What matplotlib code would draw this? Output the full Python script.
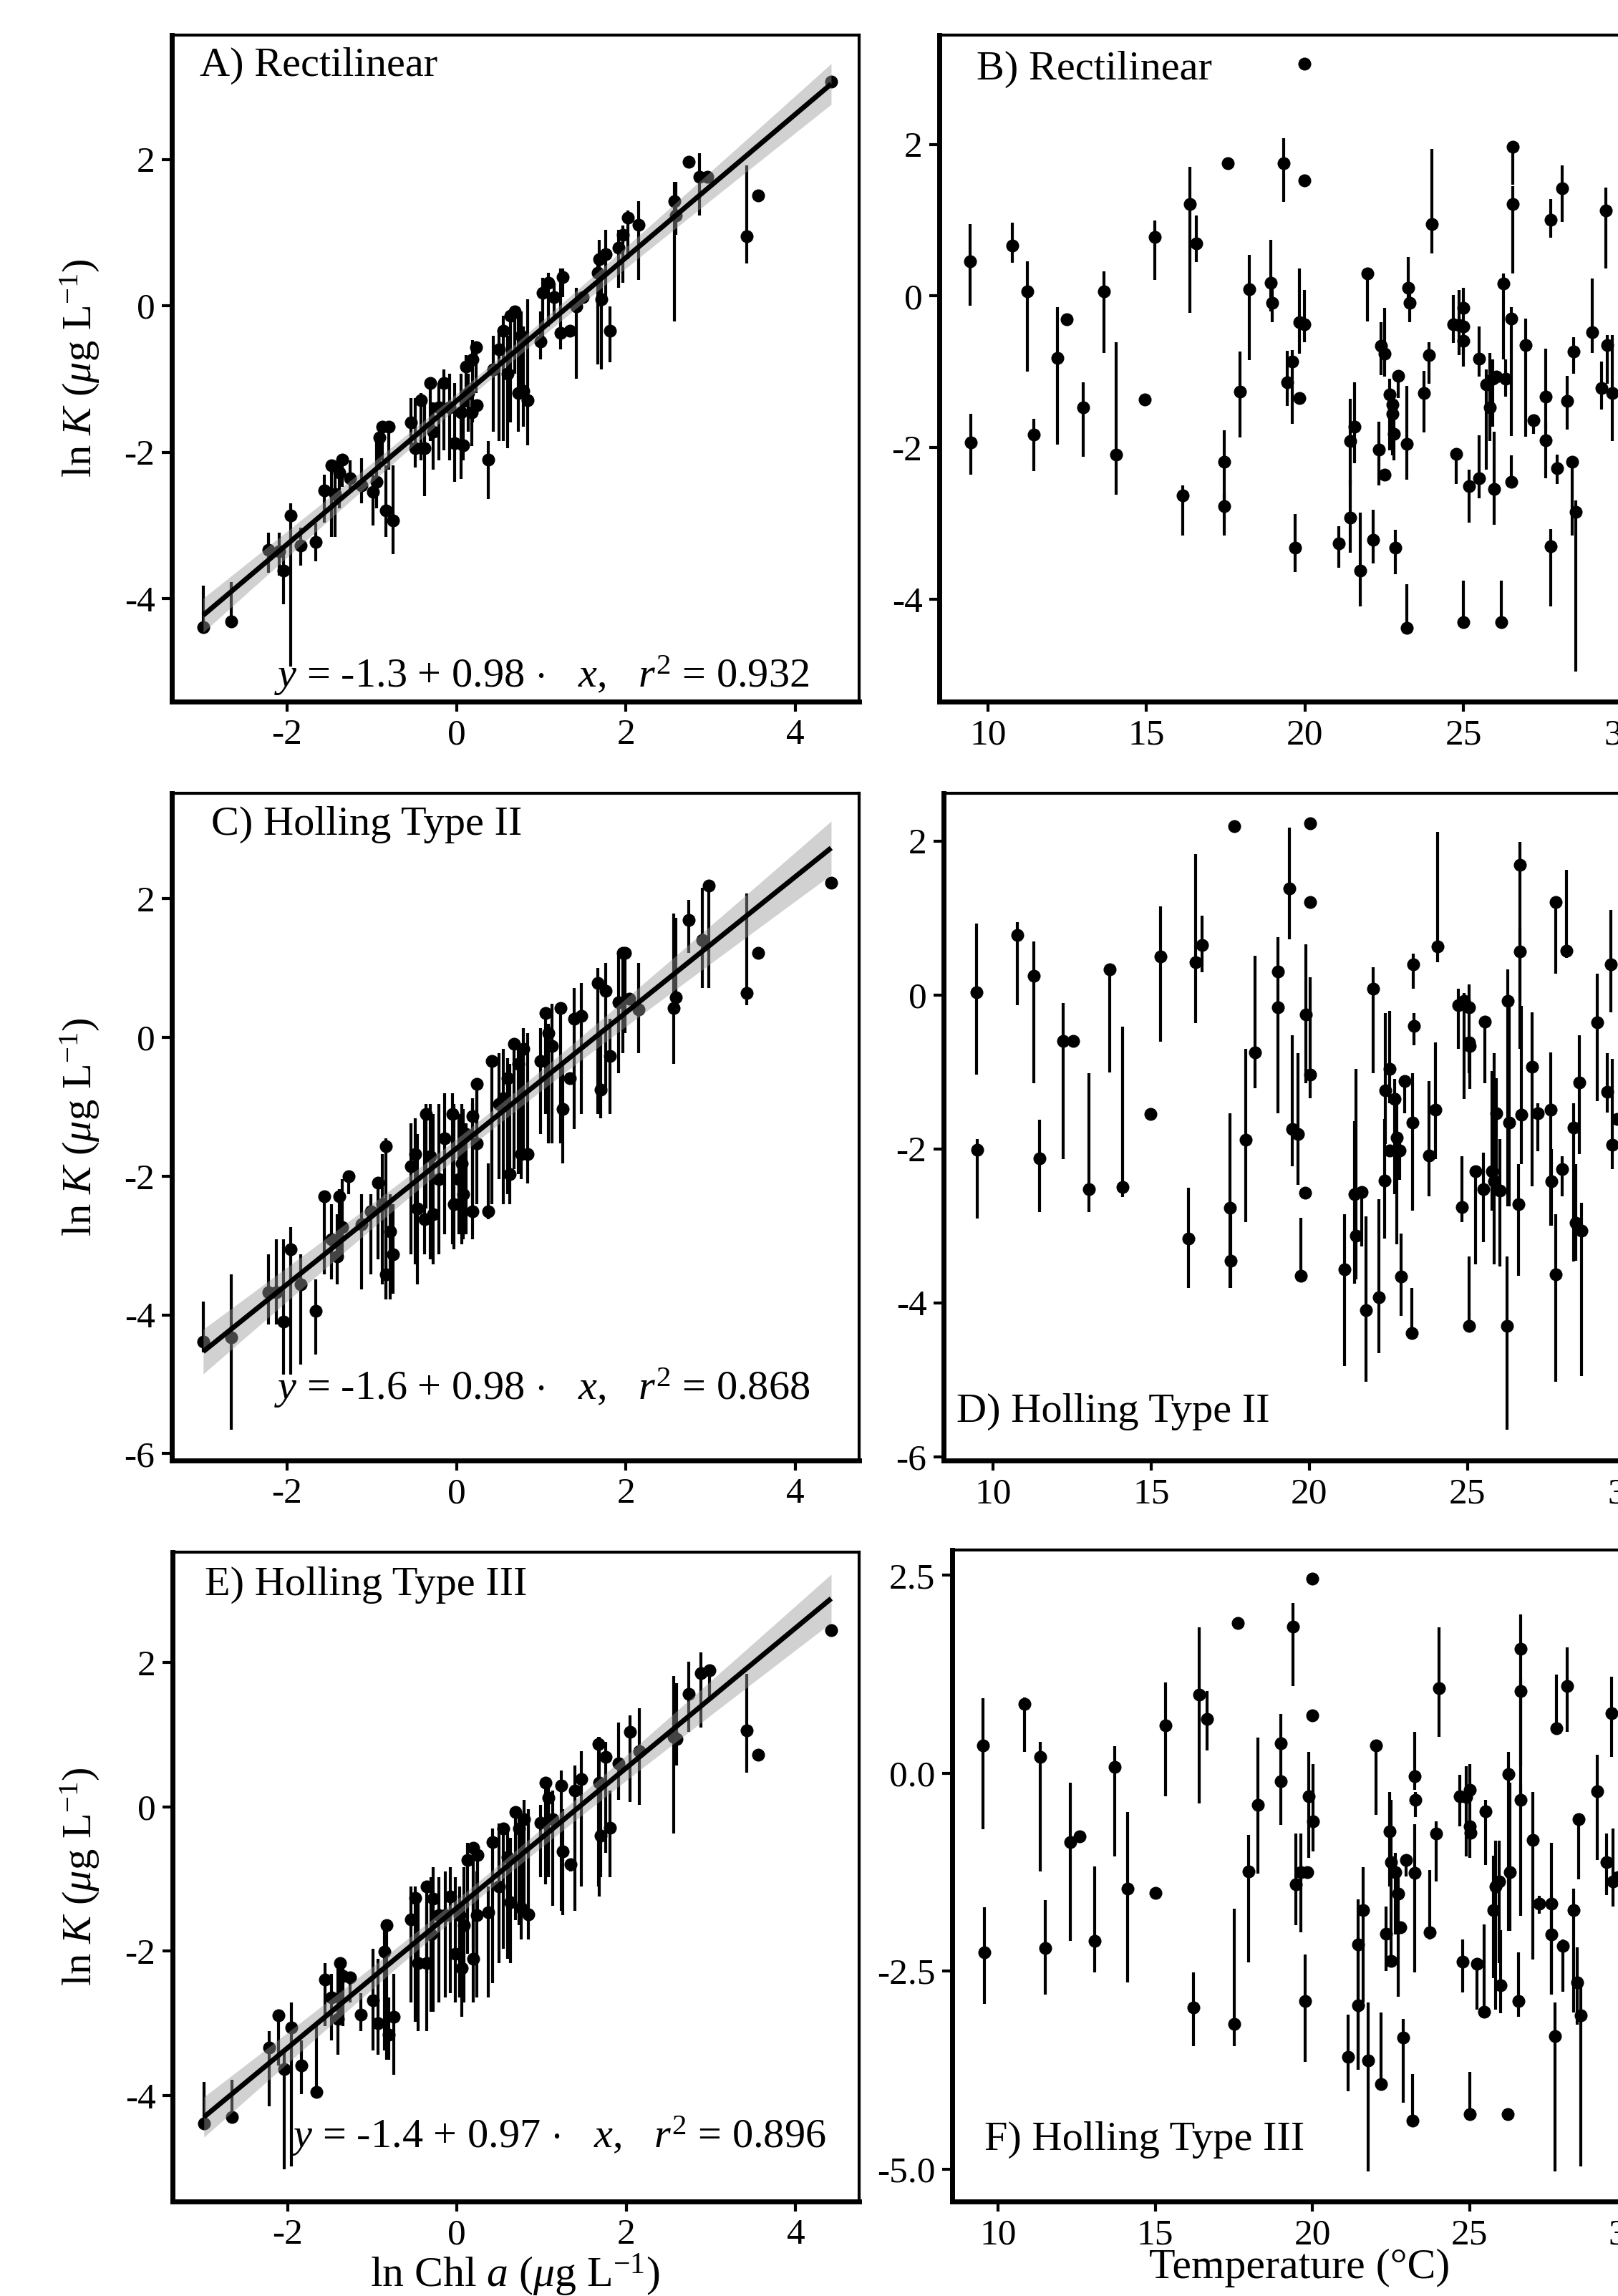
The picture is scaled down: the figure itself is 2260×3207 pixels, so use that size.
import numpy as np
import matplotlib
matplotlib.use('Agg')
import matplotlib.pyplot as plt
from matplotlib.ticker import FormatStrFormatter

plt.rcParams['font.family'] = 'Liberation Serif'
plt.rcParams['mathtext.fontset'] = 'custom'
plt.rcParams['mathtext.rm'] = 'Liberation Serif'
plt.rcParams['mathtext.it'] = 'Liberation Serif:italic'
plt.rcParams['axes.unicode_minus'] = False

# ── Data: left column, ln Chl a vs ln K ─────────────────────────
chl_A = [-2.99, -2.66, -2.22, -2.09, -2.04, -1.96, -1.84, -1.66, -1.56, -1.48, -1.43, -1.38, -1.35, -1.26, -1.12,
         -0.99, -0.94, -0.91, -0.88, -0.83, -0.80, -0.75, -0.54, -0.49, -0.42, -0.38, -0.31, -0.28, -0.21, -0.15,
         -0.08, -0.02, 0.05, 0.08, 0.11, 0.14, 0.19, 0.18, 0.23, 0.24, 0.37, 0.43, 0.50, 0.55, 0.60, 0.64, 0.69,
         0.73, 0.76, 0.79, 0.84, 0.99, 1.02, 1.08, 1.15, 1.23, 1.25, 1.34, 1.41, 1.49, 1.67, 1.68, 1.71, 1.76,
         1.81, 1.91, 1.96, 2.02, 2.15, 2.57, 2.59, 2.74, 2.87, 2.96, 3.42, 3.56, 4.42]
lnk_A = [-4.39, -4.31, -3.34, -3.36, -3.62, -2.87, -3.28, -3.23, -2.52, -2.18, -2.57, -2.28, -2.10, -2.36, -2.45,
         -2.54, -2.41, -1.80, -1.65, -2.80, -1.65, -2.93, -1.59, -1.95, -1.29, -1.95, -1.06, -1.72, -1.39, -1.06,
         -1.39, -1.88, -1.46, -1.91, -0.83, -1.19, -0.73, -1.46, -0.57, -1.36, -2.10, -0.87, -0.60, -0.34, -0.93,
         -0.14, -0.08, -1.19, -0.41, -1.16, -1.29, -0.49, 0.18, 0.31, 0.12, -0.37, 0.39, -0.34, -0.01, 0.12, 0.45,
         0.64, 0.09, 0.71, -0.34, 0.79, 0.97, 1.20, 1.11, 1.43, 1.23, 1.97, 1.76, 1.76, 0.95, 1.51, 3.06]
lo_A = [-4.39, -4.31, -3.65, -3.69, -4.08, -4.93, -3.55, -3.49, -2.96, -3.16, -3.16, -2.77, -2.47, -2.50, -2.70,
        -3.00, -2.77, -2.24, -2.11, -3.16, -2.24, -3.39, -1.91, -2.21, -2.11, -2.60, -1.85, -2.24, -2.11, -1.98,
        -2.11, -2.41, -2.37, -2.11, -1.39, -1.72, -1.59, -1.92, -1.19, -1.36, -2.64, -1.72, -1.85, -1.85, -1.95,
        -1.59, -0.93, -1.72, -1.19, -1.65, -1.91, -0.73, -0.54, -0.28, -0.14, -0.60, 0.12, -0.41, -1.00, 0.12,
        -0.80, -0.01, -0.87, 0.12, -0.77, 0.25, 0.31, 0.64, 0.35, -0.21, 0.97, 1.97, 1.23, 1.76, 0.58, 1.51, 3.06]
hi_A = [-3.82, -3.78, -3.10, -3.10, -3.36, -2.70, -3.03, -2.97, -2.31, -2.11, -2.24, -2.11, -2.05, -2.11, -2.08,
        -2.31, -1.85, -1.59, -1.59, -2.18, -1.59, -2.18, -1.26, -1.26, -1.19, -1.26, -0.99, -1.32, -1.06, -0.87,
        -0.93, -1.06, -0.93, -1.19, -0.67, -0.93, -0.47, -1.06, -0.50, -1.36, -1.85, -0.41, -0.34, -0.14, -0.41,
        -0.08, -0.01, -0.08, -0.08, -0.28, 0.09, -0.08, 0.38, 0.45, 0.31, 0.51, 0.51, -0.28, 0.25, 0.12, 0.64,
        0.90, 0.38, 1.04, -0.01, 1.04, 1.10, 1.30, 1.43, 1.69, 1.69, 1.97, 2.09, 1.76, 1.92, 1.51, 3.06]

chl_C = [-2.99, -2.66, -2.22, -2.13, -2.04, -1.96, -1.84, -1.66, -1.56, -1.48, -1.41, -1.38, -1.35, -1.27, -1.12,
         -1.01, -0.93, -0.88, -0.83, -0.83, -0.78, -0.75, -0.54, -0.49, -0.46, -0.38, -0.36, -0.31, -0.28, -0.21,
         -0.14, -0.05, -0.03, 0.03, 0.06, 0.08, 0.11, 0.19, 0.19, 0.24, 0.24, 0.37, 0.42, 0.50, 0.55, 0.60, 0.63,
         0.68, 0.73, 0.76, 0.79, 0.84, 0.99, 1.05, 1.08, 1.13, 1.23, 1.25, 1.34, 1.39, 1.47, 1.67, 1.70, 1.76,
         1.81, 1.91, 1.96, 1.99, 2.04, 2.15, 2.56, 2.59, 2.74, 2.90, 2.98, 3.42, 3.56, 4.42]
lnk_C = [-4.39, -4.32, -3.67, -3.67, -4.10, -3.05, -3.56, -3.94, -2.29, -2.91, -3.16, -2.29, -2.73, -2.00, -2.69,
         -2.51, -2.10, -2.40, -1.57, -3.42, -2.80, -3.13, -1.86, -1.68, -2.47, -2.62, -1.10, -1.71, -2.55, -2.04,
         -1.46, -1.10, -2.40, -2.04, -1.82, -2.26, -1.39, -2.51, -1.14, -1.53, -0.67, -2.51, -0.34, -0.96, -0.88,
         -0.59, -1.97, -0.09, -0.38, -1.68, -0.16, -1.68, -0.34, 0.35, 0.06, -0.12, 0.42, -1.03, -0.59, 0.27,
         0.31, 0.78, -0.75, 0.67, -0.27, 0.51, 1.22, 1.22, 0.56, 0.40, 0.42, 0.58, 1.69, 1.40, 2.19, 0.64, 1.22, 2.23]
lo_C = [-4.54, -5.66, -4.14, -4.14, -4.86, -4.86, -4.72, -4.57, -3.42, -3.49, -3.56, -3.13, -3.13, -2.26, -3.63,
        -3.42, -3.20, -3.56, -3.78, -3.78, -3.78, -3.70, -3.13, -3.27, -3.56, -3.13, -2.47, -3.20, -3.27, -3.13,
        -2.84, -2.98, -3.05, -2.84, -2.98, -2.91, -2.84, -2.91, -2.40, -2.40, -1.53, -2.62, -2.40, -2.04, -2.40,
        -2.26, -2.40, -1.90, -1.97, -2.04, -1.68, -2.11, -1.39, -1.10, -1.53, -1.53, -1.53, -1.82, -0.67, -1.32,
        -1.10, -1.10, -1.17, -0.81, -1.10, -0.52, -0.23, 0.06, 0.49, -0.23, -0.38, 0.42, 1.22, 0.71, 0.71, 0.46,
        1.22, 2.23]
hi_C = [-3.81, -3.42, -3.13, -2.91, -2.91, -2.73, -3.13, -3.49, -2.26, -2.40, -2.55, -2.19, -2.04, -1.97, -2.26,
        -2.26, -2.04, -1.68, -1.46, -2.62, -2.26, -2.40, -1.24, -1.17, -1.39, -1.10, -0.96, -0.96, -1.10, -0.96,
        -0.81, -0.81, -0.96, -1.10, -0.96, -1.03, -1.24, -0.96, -0.88, -0.67, -0.59, -1.82, -0.30, -0.23, -0.16,
        -0.30, -0.38, -0.01, -0.09, -0.09, 0.13, 0.06, 0.13, 0.35, 0.20, 0.49, 0.49, -0.38, -0.52, 0.71, 0.78,
        1.00, 0.06, 1.07, 0.27, 1.22, 1.22, 1.22, 0.64, 1.07, 1.79, 1.72, 1.98, 2.16, 2.19, 2.08, 1.22, 2.23]

chl_E = [-2.99, -2.66, -2.22, -2.11, -2.04, -1.96, -1.84, -1.66, -1.56, -1.48, -1.41, -1.38, -1.35, -1.26, -1.14,
         -0.99, -0.93, -0.86, -0.83, -0.81, -0.75, -0.54, -0.49, -0.46, -0.36, -0.36, -0.31, -0.28, -0.21, -0.14,
         -0.08, -0.02, 0.03, 0.06, 0.08, 0.12, 0.19, 0.19, 0.23, 0.24, 0.37, 0.42, 0.50, 0.55, 0.60, 0.63, 0.69,
         0.73, 0.76, 0.79, 0.84, 0.99, 1.05, 1.08, 1.13, 1.23, 1.25, 1.34, 1.39, 1.47, 1.67, 1.68, 1.70, 1.76,
         1.81, 1.91, 2.04, 2.15, 2.56, 2.59, 2.74, 2.88, 2.98, 3.42, 3.56, 4.42]
lnk_E = [-4.39, -4.30, -3.34, -2.89, -3.63, -3.06, -3.58, -3.95, -2.39, -2.64, -2.94, -2.17, -2.34, -2.36, -2.88,
         -2.68, -3.00, -2.01, -1.64, -3.16, -2.91, -1.56, -1.26, -2.17, -2.17, -1.10, -1.77, -1.27, -1.50, -1.50,
         -1.24, -2.04, -1.50, -2.24, -1.64, -0.74, -2.11, -0.57, -1.50, -0.67, -1.46, -0.49, -1.10, -0.30, -0.70,
         -1.32, -0.07, -0.30, -1.40, -0.17, -1.49, -0.22, 0.33, 0.13, -0.17, 0.30, -0.62, -0.80, 0.23, 0.38, 0.87,
         0.33, -0.40, 0.69, -0.29, 0.60, 1.04, 0.77, 0.97, 0.94, 1.57, 1.85, 1.89, 1.06, 0.72, 2.45]
lo_E = [-4.39, -4.30, -4.15, -3.58, -5.02, -4.98, -3.98, -3.98, -3.04, -3.24, -3.44, -2.91, -3.04, -2.71, -3.11,
        -3.38, -3.44, -3.38, -3.51, -3.51, -3.71, -2.71, -2.98, -3.11, -3.11, -2.31, -2.84, -2.84, -2.71, -2.64,
        -2.58, -2.71, -2.64, -2.91, -2.71, -2.04, -2.71, -1.97, -2.64, -1.50, -2.64, -2.44, -2.17, -1.97, -2.11,
        -2.17, -1.57, -1.64, -1.84, -1.50, -1.84, -0.97, -1.07, -0.97, -1.37, -1.44, -1.50, -0.90, -1.44, -1.10,
        -1.10, -1.24, -0.97, -0.64, -0.97, 0.10, 0.07, 0.03, -0.37, 0.57, 1.04, 1.10, 1.51, 0.47, 0.72, 2.45]
hi_E = [-3.81, -3.78, -3.11, -2.84, -3.38, -2.71, -3.24, -3.04, -2.17, -2.31, -2.17, -2.11, -2.17, -2.31, -2.58,
        -1.97, -2.11, -1.71, -1.57, -2.64, -2.31, -1.10, -1.10, -1.24, -1.37, -1.04, -0.97, -0.84, -0.97, -0.90,
        -0.84, -0.97, -1.10, -1.37, -0.84, -0.50, -1.10, -0.50, -0.90, -0.57, -1.10, -0.30, -0.23, -0.23, -0.30,
        -0.43, 0.00, -0.03, -0.10, 0.10, -0.03, 0.03, 0.37, 0.30, 0.23, 0.50, -0.03, -0.77, 0.57, 0.77, 0.97,
        0.97, 0.37, 0.90, 0.23, 1.17, 1.27, 1.37, 1.81, 1.71, 2.01, 2.14, 1.94, 1.84, 0.72, 2.45]

# ── Data: right column, temperature vs ln K ─────────────────────
temp_B = [9.44, 9.46, 10.77, 11.25, 11.45, 12.19, 12.49, 13.00, 13.66, 14.04, 14.95, 15.26, 16.15, 16.38, 16.57,
          17.46, 17.46, 17.56, 17.94, 18.25, 18.93, 18.96, 19.32, 19.44, 19.59, 19.70, 19.83, 19.83, 19.99, 19.99,
          19.99, 21.07, 21.42, 21.42, 21.57, 21.74, 21.97, 22.14, 22.34, 22.40, 22.50, 22.50, 22.66, 22.75, 22.75,
          22.80, 22.94, 22.85, 23.22, 23.20, 23.26, 23.29, 23.76, 23.90, 24.00, 24.68, 24.77, 24.86, 24.99, 25.00,
          25.00, 25.00, 25.18, 25.48, 25.50, 25.71, 25.84, 25.93, 25.96, 26.03, 26.25, 26.33, 26.20, 26.51, 26.51,
          26.56, 26.56, 26.96, 27.20, 27.58, 27.59, 27.74, 27.75, 27.94, 28.10, 28.26, 28.42, 28.46, 28.54, 29.06,
          29.34, 29.48, 29.54, 29.70]
lnk_B = [0.46, -1.93, 0.66, 0.06, -1.83, -0.82, -0.31, -1.47, 0.06, -2.09, -1.37, 0.78, -2.63, 1.21, 0.69,
         -2.19, -2.77, 1.75, -1.26, 0.09, 0.17, -0.09, 1.75, -1.14, -0.87, -3.32, -1.35, -0.35, -0.37, 3.06,
         1.52, -3.26, -1.91, -2.92, -1.72, -3.62, 0.30, -3.22, -2.03, -0.66, -0.76, -2.36, -1.30, -1.43, -1.55,
         -1.82, -1.05, -3.32, -1.95, -4.38, 0.11, -0.09, -1.28, -0.78, 0.95, -0.37, -2.08, -0.38, -0.16, -0.40,
         -0.59, -4.30, -2.51, -2.40, -0.83, -1.17, -1.47, -1.09, -2.55, -1.06, 0.16, -1.09, -4.30, -0.30, -2.45,
         1.21, 1.97, -0.65, -1.64, -1.33, -1.90, -3.30, 1.00, -2.27, 1.42, -1.38, -2.19, -0.73, -2.85, -0.48,
         -1.21, 1.13, -0.65, -1.28]
lo_B = [-0.13, -2.36, 0.44, -1.00, -2.31, -1.96, -0.31, -2.12, -0.75, -2.62, -1.37, 0.21, -3.16, -0.22, 0.45,
        -2.70, -3.16, 1.75, -1.87, -0.85, -0.20, -0.35, 1.24, -1.45, -1.69, -3.64, -1.35, -0.76, -0.61, 3.06,
        1.52, -3.58, -2.50, -3.39, -2.21, -4.09, -0.34, -3.53, -2.50, -1.04, -1.06, -2.36, -2.04, -1.60, -2.10,
        -2.17, -1.35, -3.67, -2.42, -4.38, -0.05, -0.35, -1.80, -1.16, 0.56, -0.62, -2.48, -0.78, -0.78, -0.40,
        -0.93, -4.30, -2.99, -2.67, -1.06, -2.29, -1.91, -1.72, -3.02, -1.06, -0.84, -1.33, -4.30, -1.85, -2.48,
        0.30, 1.47, -1.86, -1.82, -1.76, -2.40, -4.09, 0.77, -2.48, 0.98, -1.76, -3.16, -1.03, -4.95, -0.75,
        -1.50, 0.36, -1.16, -1.91]
hi_B = [0.95, -1.55, 0.97, 0.46, -1.62, -0.15, -0.31, -1.14, 0.32, -0.61, -1.37, 0.99, -2.50, 1.70, 1.06,
        -1.77, -2.60, 1.75, -0.73, 0.54, 0.74, 0.10, 2.08, -0.72, -0.71, -2.88, -1.35, 0.36, 0.08, 3.06,
        1.52, -3.04, -1.36, -2.42, -1.14, -2.86, 0.33, -2.82, -1.66, -0.35, -0.16, -2.36, -1.09, -1.30, -1.40,
        -1.47, -1.00, -3.08, -1.19, -3.80, 0.51, 0.03, -0.99, -0.61, 1.94, 0.01, -2.03, 0.08, 0.11, -0.40,
        -0.59, -3.75, -2.29, -1.84, -0.40, -0.97, -0.75, -0.84, -1.79, -1.06, 0.30, -0.84, -3.75, -0.15, -2.10,
        1.45, 2.00, -0.30, -1.57, -0.70, -1.66, -3.07, 1.28, -2.09, 1.72, -1.05, -2.17, -0.54, -2.70, 0.23,
        -0.87, 1.43, -0.52, -0.52]

temp_D = [9.47, 9.50, 10.78, 11.28, 11.47, 12.22, 12.53, 13.04, 13.70, 14.10, 14.99, 15.30, 16.19, 16.40, 16.61,
          17.49, 17.52, 17.62, 17.98, 18.29, 19.00, 19.00, 19.38, 19.47, 19.65, 19.74, 19.86, 19.89, 20.02, 20.02,
          20.02, 21.12, 21.44, 21.47, 21.65, 21.78, 22.02, 22.19, 22.37, 22.40, 22.53, 22.53, 22.69, 22.77, 22.85,
          22.90, 23.01, 23.23, 23.26, 23.28, 23.31, 23.79, 23.98, 24.05, 24.72, 24.83, 24.90, 25.04, 25.04, 25.07,
          25.04, 25.25, 25.50, 25.54, 25.78, 25.84, 25.92, 26.03, 26.27, 26.32, 26.24, 26.61, 26.66, 26.66, 26.69,
          27.04, 27.23, 27.63, 27.65, 27.78, 27.79, 28.00, 28.13, 28.35, 28.43, 28.53, 28.61, 29.09, 29.41, 29.52,
          29.57, 29.73]
lnk_D = [0.03, -2.01, 0.78, 0.25, -2.12, -0.60, -0.60, -2.52, 0.33, -2.50, -1.55, 0.50, -3.17, 0.42, 0.65,
         -2.77, -3.45, 2.19, -1.88, -0.75, 0.30, -0.16, 1.38, -1.74, -1.81, -3.65, -2.57, -0.25, 1.21, 2.23,
         -1.04, -3.57, -2.59, -3.13, -2.56, -4.10, 0.08, -3.93, -2.41, -1.24, -0.96, -2.02, -1.35, -1.85, -2.02,
         -3.66, -1.12, -4.39, -1.66, 0.40, -0.40, -2.09, -1.49, 0.63, -0.13, -2.76, -0.08, -0.16, -0.62, -0.66,
         -4.30, -2.29, -2.52, -0.35, -2.29, -2.42, -1.54, -2.54, -0.08, -1.66, -4.30, -2.72, 1.69, 0.56, -1.56,
         -0.93, -1.54, -1.49, -2.42, -3.63, 1.21, -2.26, 0.57, -1.72, -2.96, -1.14, -3.06, -0.36, -1.26, 0.40,
         -1.95, -1.61]
lo_D = [-1.04, -2.91, -0.13, -1.15, -2.82, -2.13, -0.60, -2.82, -1.01, -2.63, -1.55, -0.61, -3.81, -0.37, 0.29,
        -3.81, -3.81, 2.19, -2.95, -1.21, -1.54, -0.16, 0.72, -2.23, -2.47, -3.65, -2.57, -1.15, 1.21, 2.23,
        -1.34, -4.82, -3.75, -3.70, -3.27, -5.03, -1.02, -4.65, -3.17, -1.94, -1.41, -2.02, -2.59, -3.24, -2.40,
        -4.17, -1.54, -4.39, -2.80, 0.08, -0.65, -2.62, -2.13, 0.42, -0.70, -2.95, -1.35, -1.02, -0.62, -1.22,
        -4.30, -3.50, -3.21, -1.15, -2.80, -3.50, -2.52, -3.53, -2.75, -2.75, -5.65, -3.65, -0.70, -0.08, -2.20,
        -2.49, -2.03, -3.00, -3.00, -5.03, 0.28, -2.62, 0.48, -3.46, -3.45, -2.07, -4.95, -1.38, -1.53, -0.23,
        -2.26, -1.61]
hi_D = [0.93, -1.87, 0.95, 0.69, -1.62, -0.11, -0.60, -1.02, 0.35, -0.41, -1.55, 1.15, -2.51, 1.83, 1.03,
        -1.54, -2.78, 2.19, -0.70, 0.51, 0.75, -0.16, 2.17, -0.52, -0.76, -2.90, -2.57, 0.66, 1.21, 2.23,
        0.23, -2.85, -1.64, -0.96, -2.52, -2.88, 0.36, -2.65, -1.61, -0.24, -0.21, -2.02, -1.09, -1.28, -1.80,
        -3.10, -1.09, -3.81, -1.02, 0.54, -0.24, -1.12, -0.62, 2.12, 0.08, -2.10, 0.02, 0.14, -0.62, -0.66,
        -3.40, -2.26, -2.05, -0.31, -0.99, -0.76, -1.08, -1.87, 0.33, -0.16, -3.40, -2.20, 1.99, 0.87, -0.14,
        -0.23, -1.41, -0.75, -2.00, -2.85, 1.26, -2.10, 1.62, -1.41, -2.20, -0.52, -2.70, 0.28, -0.76, 1.10,
        -0.83, -1.61]

temp_F = [9.53, 9.56, 10.85, 11.34, 11.50, 12.29, 12.60, 13.08, 13.71, 14.11, 15.02, 15.32, 16.21, 16.40, 16.65,
          17.52, 17.63, 17.98, 18.27, 18.99, 18.99, 19.39, 19.48, 19.63, 19.77, 19.85, 19.89, 20.00, 20.00, 20.03,
          21.13, 21.45, 21.45, 21.61, 21.77, 22.02, 22.18, 22.34, 22.45, 22.50, 22.50, 22.63, 22.74, 22.79, 22.90,
          22.98, 23.19, 23.26, 23.26, 23.29, 23.74, 23.94, 24.03, 24.68, 24.79, 24.89, 25.02, 25.02, 25.03, 25.00,
          25.24, 25.47, 25.50, 25.76, 25.84, 25.94, 26.00, 26.24, 26.29, 26.21, 26.56, 26.63, 26.63, 26.63, 27.02,
          27.21, 27.61, 27.61, 27.73, 27.77, 27.98, 28.11, 28.31, 28.42, 28.48, 28.55, 29.06, 29.37, 29.52, 29.56,
          29.73]
lnk_F = [0.35, -2.26, 0.88, 0.21, -2.21, -0.87, -0.80, -2.12, 0.08, -1.46, -1.51, 0.60, -2.96, 0.99, 0.69,
         -3.17, 1.90, -1.24, -0.40, 0.38, -0.10, 1.85, -1.40, -1.25, -2.88, -1.25, -0.29, 2.46, 0.73, -0.61,
         -3.58, -2.16, -2.93, -1.73, -3.63, 0.35, -3.93, -2.03, -0.73, -1.12, -2.37, -1.25, -1.52, -1.95, -3.34,
         -1.10, -4.39, -1.26, -0.04, -0.34, -2.01, -0.76, 1.07, -0.29, -2.38, -0.30, -0.21, -0.67, -0.75, -4.31,
         -2.41, -3.01, -0.48, -1.73, -1.43, -1.37, -2.68, -0.01, -1.25, -4.31, -2.88, 1.57, 1.04, -0.34, -0.84,
         -1.65, -1.65, -2.04, -3.32, 0.57, -2.18, 1.10, -1.73, -2.64, -0.58, -3.06, -0.23, -1.12, 0.76, -1.37,
         -1.31]
lo_F = [-0.71, -2.91, 0.27, -1.24, -2.80, -2.12, -0.80, -2.52, -1.05, -2.64, -1.51, -0.29, -3.45, -0.38, 0.29,
        -3.45, 1.90, -2.39, -1.27, -0.65, -0.10, 1.10, -1.92, -2.01, -3.65, -1.25, -1.07, 2.46, 0.73, -0.99,
        -4.02, -3.75, -3.75, -2.90, -5.03, -0.53, -3.93, -2.50, -1.43, -2.35, -2.37, -2.04, -2.82, -1.95, -4.16,
        -1.30, -4.39, -2.52, -0.21, -0.55, -2.10, -1.37, 0.46, -0.67, -2.77, -1.05, -1.07, -0.67, -0.75, -4.31,
        -2.99, -3.01, -1.16, -2.59, -2.99, -2.40, -3.03, -1.99, -1.99, -4.31, -3.08, 0.09, -0.34, -1.80, -2.35,
        -1.77, -2.80, -2.80, -5.03, 0.52, -2.76, 0.52, -3.02, -3.18, -1.34, -4.97, -1.10, -1.54, 0.21, -1.68,
        -1.31]
hi_F = [0.95, -1.69, 0.96, 0.40, -1.60, -0.12, -0.80, -1.18, 0.34, -0.49, -1.51, 1.15, -2.52, 1.84, 1.04,
        -1.71, 1.90, -0.78, 0.45, 0.75, -0.10, 2.15, -0.76, -0.76, -2.29, -1.25, 0.27, 2.46, 0.73, 0.12,
        -3.05, -1.59, -2.07, -1.19, -2.90, 0.40, -3.02, -1.68, -0.24, -0.34, -2.37, -1.01, -1.25, -1.95, -3.10,
        -1.07, -3.80, -0.64, 0.52, -0.24, -1.22, -0.61, 1.84, -0.02, -2.10, 0.09, 0.12, -0.67, -0.75, -3.77,
        -2.38, -1.91, -0.34, -1.04, -0.85, -0.85, -1.98, 0.27, -0.12, -4.31, -2.26, 2.01, 1.19, -0.15, -0.24,
        -1.55, -0.88, -1.55, -2.90, 1.25, -2.10, 1.59, -1.46, -2.20, -0.54, -2.68, 0.23, -0.76, 1.22, -0.70,
        -1.31]

# fitted lines as printed on the panels
fits = {'A': (-1.3, 0.98, '0.932'), 'C': (-1.6, 0.98, '0.868'), 'E': (-1.4, 0.97, '0.896')}

# ── Figure ───────────────────────────────────────────────────────
W, H = 2260, 3207
fig = plt.figure(figsize=(W / 100, H / 100), dpi=100, facecolor='white')


def box(l, t, r, b):
    return fig.add_axes([l / W, 1 - b / H, (r - l) / W, (b - t) / H])


def style(ax, xlim, ylim, xticks, yticks):
    ax.set_xlim(xlim)
    ax.set_ylim(ylim)
    ax.set_xticks(xticks)
    ax.set_yticks(yticks)
    for s in ['left', 'bottom']:
        ax.spines[s].set_linewidth(5)
    for s in ['top', 'right']:
        ax.spines[s].set_linewidth(3)
    ax.tick_params(direction='out', length=10, width=3, labelsize=37, pad=7, colors='black')


def draw_points(ax, x, y, lo, hi):
    ax.vlines(x, lo, hi, color='black', lw=3, zorder=2)
    ax.plot(x, y, 'o', color='black', ms=13, mew=0, zorder=3)


def draw_fit(ax, x, y, a, b):
    x = np.asarray(x)
    y = np.asarray(y)
    xs = np.linspace(x.min(), x.max(), 200)
    n = len(x)
    resid = y - (a + b * x)
    s = np.sqrt((resid ** 2).sum() / (n - 2))
    se = s * np.sqrt(1 / n + (xs - x.mean()) ** 2 / ((x - x.mean()) ** 2).sum())
    yh = a + b * xs
    ax.fill_between(xs, yh - 1.98 * se, yh + 1.98 * se, color='#999999', alpha=0.45, lw=0, zorder=4)
    ax.plot(xs, yh, color='black', lw=5, zorder=5, solid_capstyle='butt')


def eq_text(px, py, key):
    a, b, r2 = fits[key]
    txt = r'$y$ = %.1f + %.2f $\cdot$   $x$,   $r^2$ = %s' % (a, b, r2)
    fig.text(px / W, 1 - py / H, txt, fontsize=42, ha='left', va='baseline')


def panel_label(px, py, txt):
    fig.text(px / W, 1 - py / H, txt, fontsize=42, ha='left', va='center')


left_x = (-3.36, 4.75)
chl_ticks = [-2, 0, 2, 4]
t_ticks = [10, 15, 20, 25, 30]

# A
axA = box(240, 49, 1200, 980)
style(axA, left_x, (-5.41, 3.70), chl_ticks, [-4, -2, 0, 2])
draw_points(axA, chl_A, lnk_A, lo_A, hi_A)
draw_fit(axA, chl_A, lnk_A, *fits['A'][:2])
eq_text(383, 960, 'A')
panel_label(279, 92, 'A) Rectilinear')

# B
axB = box(1312, 49, 2330, 980)
style(axB, (8.47, 31.45), (-5.35, 3.44), t_ticks, [-4, -2, 0, 2])
draw_points(axB, temp_B, lnk_B, lo_B, hi_B)
panel_label(1364, 97, 'B) Rectilinear')

# C
axC = box(240, 1108, 1200, 2040)
style(axC, left_x, (-6.10, 3.52), chl_ticks, [-6, -4, -2, 0, 2])
draw_points(axC, chl_C, lnk_C, lo_C, hi_C)
draw_fit(axC, chl_C, lnk_C, *fits['C'][:2])
eq_text(383, 1955, 'C')
panel_label(295, 1152, 'C) Holling Type II')

# D
axD = box(1318, 1108, 2330, 2040)
style(axD, (8.44, 31.34), (-6.05, 2.62), t_ticks, [-6, -4, -2, 0, 2])
draw_points(axD, temp_D, lnk_D, lo_D, hi_D)
panel_label(1336, 1972, 'D) Holling Type II')

# E
axE = box(241, 2168, 1200, 3075)
style(axE, left_x, (-5.47, 3.53), chl_ticks, [-4, -2, 0, 2])
draw_points(axE, chl_E, lnk_E, lo_E, hi_E)
draw_fit(axE, chl_E, lnk_E, *fits['E'][:2])
eq_text(405, 3000, 'E')
panel_label(286, 2214, 'E) Holling Type III')

# F
axF = box(1330, 2165, 2330, 3075)
style(axF, (8.54, 31.32), (-5.41, 2.82), t_ticks, [-5.0, -2.5, 0.0, 2.5])
axF.yaxis.set_major_formatter(FormatStrFormatter('%.1f'))
draw_points(axF, temp_F, lnk_F, lo_F, hi_F)
panel_label(1375, 2989, 'F) Holling Type III')

# axis titles
ylab = r'ln $K$ ($\mu$g L$^{-1}$)'
for cy in [514, 1574, 2621]:
    fig.text(112 / W, 1 - cy / H, ylab, fontsize=42, rotation=90, ha='center', va='center')
fig.text(719 / W, 1 - 3178 / H, r'ln Chl $a$ ($\mu$g L$^{-1}$)', fontsize=43, ha='center', va='center')
fig.text(1815 / W, 1 - 3168 / H, 'Temperature (°C)', fontsize=43, ha='center', va='center')

fig.savefig('out.png', dpi=100, facecolor='white')
